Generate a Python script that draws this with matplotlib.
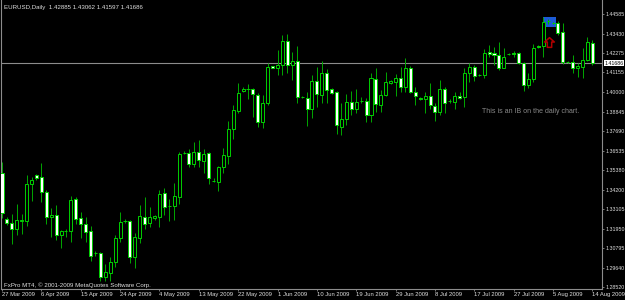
import matplotlib
matplotlib.use("Agg")
from matplotlib import pyplot as plt
from matplotlib.patches import Rectangle
from matplotlib.path import Path

# EURUSD daily bars, 27 Mar 2009 .. 14 Aug 2009 (broker has Sunday bars)
opens = [
    1.3523, 1.3252, 1.3229, 1.3193, 1.3243, 1.3240, 1.3458, 1.3511, 1.3499, 1.3411,
    1.3264, 1.3276, 1.3158, 1.3182, 1.3182, 1.3370, 1.3258, 1.3223, 1.3182, 1.3052,
    1.3052, 1.2911, 1.2934, 1.2999, 1.3140, 1.3240, 1.3240, 1.3029, 1.3140, 1.3264,
    1.3229, 1.3258, 1.3264, 1.3405, 1.3329, 1.3329, 1.3382, 1.3640, 1.3640, 1.3576,
    1.3646, 1.3593, 1.3640, 1.3476, 1.3470, 1.3558, 1.3623, 1.3782, 1.3888, 1.4005,
    1.4017, 1.4017, 1.3982, 1.3823, 1.3935, 1.4153, 1.4141, 1.4158, 1.4300, 1.4158,
    1.4182, 1.3970, 1.3964, 1.3899, 1.4064, 1.3982, 1.4111, 1.4017, 1.4000, 1.3794,
    1.3841, 1.3941, 1.3899, 1.3947, 1.3947, 1.3864, 1.4076, 1.3923, 1.3982, 1.4053,
    1.4058, 1.4082, 1.4029, 1.4141, 1.4000, 1.3964, 1.3958, 1.3976, 1.3917, 1.3882,
    1.4017, 1.3947, 1.3941, 1.3976, 1.3970, 1.4111, 1.4147, 1.4102, 1.4100, 1.4235,
    1.4229, 1.4217, 1.4141, 1.4223, 1.4229, 1.4229, 1.4170, 1.4041, 1.4076, 1.4270,
    1.4270, 1.4417, 1.4406, 1.4406, 1.4353, 1.4176, 1.4176, 1.4141, 1.4147, 1.4188,
    1.42885]
highs = [
    1.3588, 1.3264, 1.3282, 1.3341, 1.3282, 1.3511, 1.3499, 1.3517, 1.3582, 1.3423,
    1.3317, 1.3335, 1.3188, 1.3193, 1.3388, 1.3382, 1.3293, 1.3264, 1.3211, 1.3064,
    1.3058, 1.2988, 1.3029, 1.3158, 1.3293, 1.3252, 1.3246, 1.3170, 1.3335, 1.3382,
    1.3323, 1.3276, 1.3423, 1.3435, 1.3370, 1.3464, 1.3646, 1.3652, 1.3664, 1.3705,
    1.3717, 1.3664, 1.3646, 1.3493, 1.3564, 1.3670, 1.3829, 1.3923, 1.4053, 1.4026,
    1.4047, 1.4023, 1.3994, 1.3982, 1.4170, 1.4155, 1.4247, 1.4335, 1.4341, 1.4235,
    1.4270, 1.3976, 1.4000, 1.4100, 1.4147, 1.4182, 1.4135, 1.4023, 1.4005, 1.3935,
    1.3988, 1.4005, 1.4017, 1.3970, 1.3964, 1.4111, 1.4141, 1.4011, 1.4117, 1.4070,
    1.4105, 1.4147, 1.4200, 1.4153, 1.4029, 1.3970, 1.4000, 1.4053, 1.3935, 1.4070,
    1.4029, 1.3958, 1.4000, 1.4000, 1.4141, 1.4170, 1.4158, 1.4105, 1.4253, 1.4276,
    1.4264, 1.4294, 1.4258, 1.4229, 1.4241, 1.4235, 1.4176, 1.4111, 1.4282, 1.4276,
    1.4441, 1.4429, 1.4411, 1.4417, 1.4406, 1.4182, 1.4217, 1.4170, 1.4258, 1.4323,
    1.43062]
lows = [
    1.3258, 1.3217, 1.3105, 1.3158, 1.3164, 1.3211, 1.3358, 1.3482, 1.3352, 1.3223,
    1.3146, 1.3129, 1.3082, 1.3146, 1.3117, 1.3223, 1.3140, 1.3117, 1.3005, 1.3035,
    1.2887, 1.2887, 1.2887, 1.2970, 1.3117, 1.3229, 1.2993, 1.2964, 1.3111, 1.3193,
    1.3205, 1.3246, 1.3205, 1.3276, 1.3240, 1.3246, 1.3341, 1.3635, 1.3558, 1.3558,
    1.3558, 1.3523, 1.3458, 1.3470, 1.3417, 1.3523, 1.3576, 1.3723, 1.3876, 1.4000,
    1.3958, 1.3852, 1.3794, 1.3788, 1.3923, 1.4138, 1.4100, 1.4100, 1.4111, 1.4070,
    1.3935, 1.3964, 1.3800, 1.3847, 1.3911, 1.3935, 1.3935, 1.3988, 1.3752, 1.3746,
    1.3805, 1.3864, 1.3876, 1.3935, 1.3823, 1.3823, 1.3882, 1.3882, 1.3976, 1.4047,
    1.3976, 1.4000, 1.4000, 1.3994, 1.3923, 1.3955, 1.3876, 1.3899, 1.3829, 1.3864,
    1.3876, 1.3935, 1.3899, 1.3958, 1.3911, 1.4058, 1.4064, 1.4094, 1.4082, 1.4206,
    1.4158, 1.4129, 1.4138, 1.4217, 1.4206, 1.4164, 1.4005, 1.4023, 1.4058, 1.4261,
    1.4206, 1.4400, 1.4400, 1.4335, 1.4164, 1.4170, 1.4111, 1.4088, 1.4082, 1.4182,
    1.41597]
closes = [
    1.3287, 1.3229, 1.3193, 1.3246, 1.3246, 1.3458, 1.3482, 1.3493, 1.3411, 1.3264,
    1.3276, 1.3158, 1.3182, 1.3180, 1.3364, 1.3252, 1.3223, 1.3176, 1.3035, 1.3050,
    1.2911, 1.2940, 1.2999, 1.3140, 1.3235, 1.3241, 1.3029, 1.3146, 1.3270, 1.3223,
    1.3264, 1.3270, 1.3399, 1.3323, 1.3327, 1.3388, 1.3635, 1.3641, 1.3576, 1.3646,
    1.3599, 1.3635, 1.3493, 1.3477, 1.3558, 1.3629, 1.3782, 1.3894, 1.3994, 1.4020,
    1.4016, 1.3988, 1.3823, 1.3935, 1.4147, 1.4141, 1.4158, 1.4300, 1.4158, 1.4182,
    1.3970, 1.3968, 1.3899, 1.4064, 1.3988, 1.4111, 1.4011, 1.3994, 1.3805, 1.3841,
    1.3941, 1.3899, 1.3941, 1.3945, 1.3864, 1.4082, 1.3929, 1.3982, 1.4058, 1.4064,
    1.4082, 1.4029, 1.4141, 1.4000, 1.3976, 1.3961, 1.3976, 1.3923, 1.3882, 1.4017,
    1.3935, 1.3945, 1.3976, 1.3964, 1.4111, 1.4147, 1.4094, 1.4097, 1.4229, 1.4223,
    1.4217, 1.4141, 1.4206, 1.4222, 1.4226, 1.4170, 1.4041, 1.4076, 1.4258, 1.4264,
    1.4411, 1.4415, 1.4404, 1.4347, 1.4176, 1.4174, 1.4141, 1.4153, 1.4188, 1.4294,
    1.41686]

# date labels every 8 bars
date_labels = ['27 Mar 2009', '6 Apr 2009', '15 Apr 2009', '24 Apr 2009', '4 May 2009',
               '13 May 2009', '22 May 2009', '1 Jun 2009', '10 Jun 2009', '19 Jun 2009',
               '29 Jun 2009', '8 Jul 2009', '17 Jul 2009', '27 Jul 2009', '5 Aug 2009',
               '14 Aug 2009']
price_ticks = [1.44585, 1.43430, 1.42275, 1.41155, 1.40000, 1.38845, 1.37690, 1.36535,
               1.35380, 1.34200, 1.33105, 1.31950, 1.30795, 1.29640, 1.28520]

# inside bar marker: rectangle over bars 110..112, arrow under bar 111
ib_bars = (109.9, 112.6)
ib_prices = (1.4382, 1.4438)
arrow_bar = 111.2
arrow_price = 1.4292

WICK = '#00a800'
EDGE = '#00d000'
plt.rcParams['font.family'] = ['Liberation Sans', 'DejaVu Sans']

fig = plt.figure(figsize=(6.25, 3), dpi=100, facecolor='black')
ax = fig.add_axes([1/625, 1 - 289/300, 601/625, 289/300])
ax.set_facecolor('black')

n = len(opens)
xs = list(range(n))

# IB rectangle drawn behind the candles
ax.add_patch(Rectangle((ib_bars[0], ib_prices[0]), ib_bars[1] - ib_bars[0],
                       ib_prices[1] - ib_prices[0], facecolor='#1c5bd6',
                       edgecolor='none', zorder=1))

# wicks
ax.vlines(xs, lows, highs, color=WICK, lw=0.7, zorder=2)

# bodies: bull = black with green edge, bear = white with green edge
bottoms = [min(o, c) for o, c in zip(opens, closes)]
heights = [max(abs(c - o), 0.00005) for o, c in zip(opens, closes)]
fills = ['black' if c >= o else 'white' for o, c in zip(opens, closes)]
ax.bar(xs, heights, bottom=bottoms, width=0.62, color=fills,
       edgecolor=EDGE, linewidth=0.7, zorder=3)

# current price line + label
last = closes[-1]
ax.axhline(last, color='#8c8c8c', lw=0.8, zorder=1.5)
ax.text(1.004, last, '%.5f' % last, transform=ax.get_yaxis_transform(),
        ha='left', va='center', fontsize=3.8, color='black',
        bbox=dict(facecolor='white', edgecolor='none', pad=0.5), clip_on=False)

# hollow up arrow (MT4 style) as a marker shape
up_arrow = Path([(0, 1), (1, 0.1), (0.45, 0.1), (0.45, -1), (-0.45, -1),
                 (-0.45, 0.1), (-1, 0.1), (0, 1)], closed=True)
ax.plot([arrow_bar], [arrow_price], marker=up_arrow, markersize=7,
        markerfacecolor='none', markeredgecolor='#b00000', mew=1.1, zorder=4)
ax.text(97.6, 1.3882, 'This is an IB on the daily chart.', color='#8a8a8a',
        fontsize=5, ha='left', va='center')

ax.set_xlim(-0.2, 121.95)
ax.set_ylim(1.2840, 1.4541)

for side in ['left', 'right', 'bottom']:
    ax.spines[side].set_color('#8c8c8c')
    ax.spines[side].set_linewidth(0.8)
ax.spines['top'].set_visible(False)

ax.yaxis.tick_right()
ax.set_yticks(price_ticks)
ax.set_yticklabels(['%.5f' % p for p in price_ticks])
ax.set_xticks(range(0, n, 8))
ax.set_xticklabels(date_labels)
for lab in ax.get_xticklabels():
    lab.set_ha('left')
ax.tick_params(axis='both', colors='#8c8c8c', length=1.5, width=0.6, labelsize=4.2,
               labelcolor='#e0e0e0', pad=0.8)
ax.tick_params(axis='y', labelsize=3.8)

fig.text(4/625, 1 - 7/300, 'EURUSD,Daily  %.5f %.5f %.5f %.5f'
         % (opens[-1], highs[-1], lows[-1], closes[-1]),
         color='#e0e0e0', fontsize=4.4, ha='left', va='center')
ax.text(3/600, 4/289, 'FxPro MT4, \u00a9 2001-2009 MetaQuotes Software Corp.',
        transform=ax.transAxes, color='#e0e0e0', fontsize=4.4, ha='left', va='center')

fig.savefig('out.png', dpi=100, facecolor='black')
